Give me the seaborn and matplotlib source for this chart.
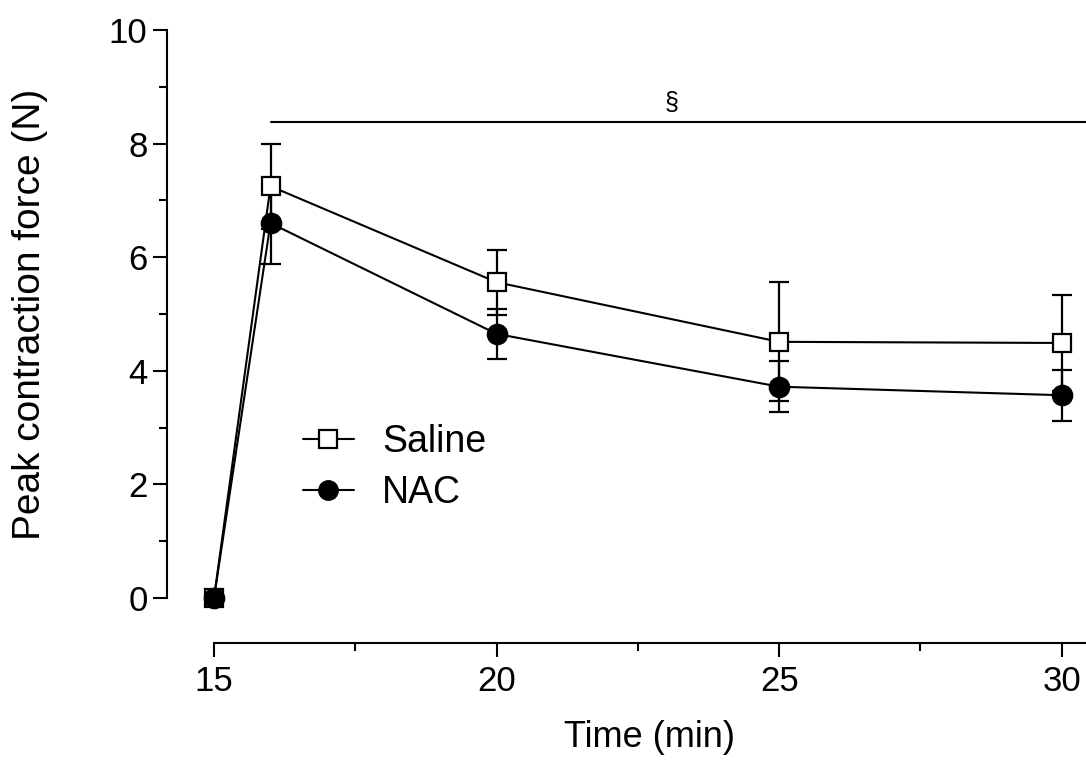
import numpy as np
import pandas as pd
import matplotlib
matplotlib.use("Agg")
import matplotlib.pyplot as plt
from matplotlib.lines import Line2D
from matplotlib.ticker import MultipleLocator
import seaborn as sns

# values
time_min = [15, 16, 20, 25, 30]
saline_mean = [0.0, 7.25, 5.56, 4.51, 4.49]
saline_err = [0.0, 0.75, 0.57, 1.05, 0.84]
nac_mean = [0.0, 6.60, 4.65, 3.72, 3.57]
nac_err = [0.0, 0.72, 0.44, 0.45, 0.45]
sig_start, sig_end, sig_y = 16, 30.43, 8.38

df = pd.DataFrame({
    "time": time_min * 2,
    "force": saline_mean + nac_mean,
    "err": saline_err + nac_err,
    "group": ["Saline"] * 5 + ["NAC"] * 5,
})

sns.set_style("ticks", rc={"text.color": "black", "axes.labelcolor": "black",
                           "xtick.color": "black", "ytick.color": "black",
                           "axes.edgecolor": "black"})
plt.rcParams["font.family"] = ["Liberation Sans", "DejaVu Sans"]

fig = plt.figure(figsize=(10.86, 7.61), dpi=100)
ax = fig.add_axes([214 / 1086, 1 - 598 / 761, 1 - 214 / 1086, (598 - 30) / 761])

styles = {"Saline": dict(marker="s", mfc="white", ms=13), "NAC": dict(marker="o", mfc="black", ms=14)}
for name in ["Saline", "NAC"]:
    sub = df[df["group"] == name]
    ax.errorbar(sub["time"], sub["force"], yerr=sub["err"], fmt="none", ecolor="black",
                elinewidth=1.6, capsize=7, capthick=1.6, clip_on=False, zorder=2)
    sns.lineplot(data=sub, x="time", y="force", ax=ax, color="black", lw=1.5,
                 marker=styles[name]["marker"], markersize=styles[name]["ms"],
                 markerfacecolor=styles[name]["mfc"], markeredgecolor="black",
                 markeredgewidth=1.6, clip_on=False, zorder=3)

# significance bar
ax.plot([sig_start, sig_end], [sig_y, sig_y], color="black", lw=1.5, clip_on=False)
ax.text(23.1, sig_y + 0.12, "§", ha="center", va="bottom", fontsize=18)

ax.set_xlim(15, 30.43)
ax.set_ylim(0, 10)
ax.set_xticks([15, 20, 25, 30])
ax.xaxis.set_minor_locator(MultipleLocator(2.5))
ax.set_yticks([0, 2, 4, 6, 8, 10])
ax.yaxis.set_minor_locator(MultipleLocator(1))
ax.tick_params(axis="both", which="major", length=10, width=1.5, labelsize=25)
ax.tick_params(axis="both", which="minor", length=6, width=1.5)
ax.tick_params(axis="x", pad=6)
ax.tick_params(axis="y", pad=4)

for side in ["top", "right"]:
    ax.spines[side].set_visible(False)
ax.spines["left"].set_position(("outward", 47 * 0.72))
ax.spines["bottom"].set_position(("outward", 45 * 0.72))
ax.spines["left"].set_linewidth(1.5)
ax.spines["bottom"].set_linewidth(1.5)

ax.set_xlabel("Time (min)", fontsize=26, labelpad=16)
ax.set_ylabel("Peak contraction force (N)", fontsize=28)
ax.yaxis.set_label_coords(-0.19, 0.5)

handles = [
    Line2D([], [], color="black", lw=1.5, marker="s", markersize=13, mfc="white", mec="black", mew=1.6),
    Line2D([], [], color="black", lw=1.5, marker="o", markersize=14, mfc="black", mec="black"),
]
ax.legend(handles, ["Saline", "NAC"], frameon=False, fontsize=27, loc="center left",
          bbox_to_anchor=(0.102, 0.23), borderpad=0, borderaxespad=0,
          handlelength=1.36, labelspacing=0.4, handletextpad=0.75)

fig.savefig("out.png", dpi=100)
